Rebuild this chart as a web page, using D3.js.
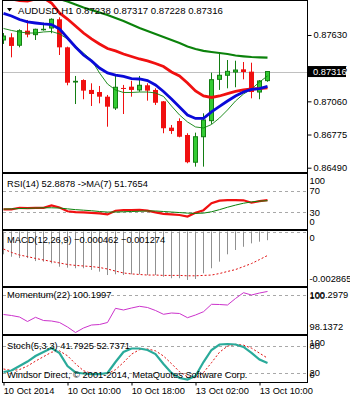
<!DOCTYPE html>
<html><head><meta charset="utf-8">
<script src="https://cdn.jsdelivr.net/npm/d3@7"></script>
<style>
html,body{margin:0;padding:0;background:#fff;}
svg{display:block;font-family:"Liberation Sans",Arial,sans-serif;font-size:9.3px;}
</style></head><body>
<svg id="c" width="350" height="400"></svg>
<script>
// ---------------- data ----------------
const symbol = "AUDUSD,H1";
const times = ["10 Oct 02:00","10 Oct 03:00","10 Oct 04:00","10 Oct 05:00","10 Oct 06:00","10 Oct 07:00","10 Oct 08:00","10 Oct 09:00",
  "10 Oct 10:00","10 Oct 11:00","10 Oct 12:00","10 Oct 13:00","10 Oct 14:00","10 Oct 15:00","10 Oct 16:00","10 Oct 17:00",
  "10 Oct 18:00","10 Oct 19:00","10 Oct 20:00","10 Oct 21:00","10 Oct 22:00","10 Oct 23:00","13 Oct 00:00","13 Oct 01:00",
  "13 Oct 02:00","13 Oct 03:00","13 Oct 04:00","13 Oct 05:00","13 Oct 06:00","13 Oct 07:00","13 Oct 08:00","13 Oct 09:00",
  "13 Oct 10:00","13 Oct 11:00"];
const open  = [0.87587,0.87610,0.87542,0.87667,0.87633,0.87676,0.87690,0.87765,0.87524,0.87226,0.87243,0.87158,0.87140,0.87100,0.87003,0.87175,0.87186,0.87158,0.87198,0.87158,0.87060,0.86834,0.86891,0.86771,0.86537,0.86756,0.86894,0.87249,0.87284,0.87312,0.87335,0.87315,0.87140,0.87238];
const high  = [0.87647,0.87645,0.87679,0.87759,0.87684,0.87736,0.87773,0.87782,0.87530,0.87278,0.87249,0.87215,0.87192,0.87115,0.87286,0.87201,0.87237,0.87278,0.87215,0.87172,0.87063,0.86857,0.86914,0.86786,0.86791,0.86957,0.87306,0.87473,0.87415,0.87409,0.87398,0.87392,0.87243,0.87317];
const low   = [0.87553,0.87438,0.87524,0.87610,0.87587,0.87667,0.87645,0.87458,0.87198,0.87037,0.87078,0.87020,0.87043,0.86842,0.86986,0.86951,0.87100,0.87143,0.87066,0.87029,0.86786,0.86780,0.86751,0.86528,0.86499,0.86499,0.86866,0.87158,0.87172,0.87181,0.87249,0.87086,0.87078,0.87228];
const close = [0.87621,0.87536,0.87667,0.87633,0.87679,0.87679,0.87765,0.87524,0.87220,0.87232,0.87152,0.87123,0.87100,0.87014,0.87181,0.87169,0.87158,0.87198,0.87152,0.87048,0.86829,0.86805,0.86756,0.86537,0.86756,0.86900,0.87246,0.87284,0.87318,0.87329,0.87312,0.87140,0.87235,0.87316];

const maBlue  = [0.87815,0.87793,0.87763,0.87742,0.87733,0.87725,0.87720,0.87682,0.87604,0.87527,0.87458,0.87407,0.87346,0.87304,0.87286,0.87274,0.87256,0.87252,0.87239,0.87201,0.87145,0.87080,0.87011,0.86943,0.86913,0.86913,0.86969,0.87016,0.87063,0.87106,0.87140,0.87162,0.87170,0.87188];
const maRed   = [0.87956,0.87939,0.87926,0.87922,0.87939,0.87948,0.87905,0.87819,0.87767,0.87707,0.87647,0.87596,0.87553,0.87514,0.87493,0.87467,0.87445,0.87424,0.87407,0.87385,0.87359,0.87312,0.87278,0.87218,0.87149,0.87106,0.87093,0.87106,0.87127,0.87145,0.87158,0.87166,0.87170,0.87175];
const maGreen = [0.88068,0.88051,0.88034,0.88017,0.87999,0.87978,0.87956,0.87939,0.87918,0.87892,0.87866,0.87845,0.87823,0.87802,0.87776,0.87750,0.87720,0.87690,0.87664,0.87639,0.87613,0.87587,0.87561,0.87531,0.87510,0.87493,0.87484,0.87475,0.87467,0.87454,0.87447,0.87441,0.87438,0.87435];
const maThin  = [0.87686,0.87669,0.87656,0.87647,0.87647,0.87656,0.87660,0.87639,0.87596,0.87536,0.87475,0.87415,0.87304,0.87209,0.87158,0.87136,0.87136,0.87140,0.87140,0.87132,0.87102,0.87020,0.86943,0.86883,0.86840,0.86831,0.86861,0.86917,0.86986,0.87063,0.87123,0.87166,0.87226,0.87278];

const rsi   = [35.5,35.5,38.5,38,38.5,38.5,43,39,32,30.5,30,29,28,26,33,34,34,34.5,33,30,27,26,25,22,29,34,47,52,53,53,52.5,48,51,52.8878];
const rsiMa = [36,36.5,37,37.5,38,38.5,38.5,38,36.5,35,34,33,31.5,30.5,30.5,31,31.5,32,32.5,32.5,31.5,30.5,29.5,28.5,28,28.5,31,35,39.5,43.5,47,49.5,51,51.7654];

const macd       = [-0.00121,-0.00134,-0.00141,-0.00141,-0.00157,-0.00160,-0.00169,-0.00187,-0.00192,-0.00195,-0.00195,-0.00204,-0.00213,-0.00231,-0.00227,-0.00231,-0.00227,-0.00227,-0.00231,-0.00231,-0.00240,-0.00248,-0.00248,-0.00257,-0.00252,-0.00222,-0.00195,-0.00160,-0.00121,-0.00098,-0.00081,-0.00063,-0.00054,-0.000462];
const macdSignal = [-0.00093,-0.00111,-0.00125,-0.00133,-0.00143,-0.00151,-0.00159,-0.00167,-0.00175,-0.00180,-0.00183,-0.00186,-0.00191,-0.00199,-0.00210,-0.00220,-0.00225,-0.00228,-0.00231,-0.00231,-0.00233,-0.00233,-0.00233,-0.00235,-0.00235,-0.00233,-0.00231,-0.00223,-0.00212,-0.00202,-0.00186,-0.00170,-0.00149,-0.001274];
const macdRange  = [-0.002865, 0];

const momentum = [99.042,98.991,98.916,98.690,98.901,98.740,98.715,98.640,98.414,98.1372,98.363,98.514,98.539,98.640,99.353,99.268,99.368,99.454,99.393,99.243,99.052,99.117,99.092,98.881,99.017,99.182,99.554,99.544,99.519,99.846,100.137,100.021,100.122,100.1997];
const momRange = [98.1372, 100.2979];

const stochMain   = [21.6,25,35,45,57.5,66.5,75.5,64,35,20.5,18.2,17,17,19.3,44,66.5,74.4,74.4,71,62,39.6,19.3,8.1,4.7,12.6,44,71,83.4,84.5,83.4,77.8,64.3,49.7,41.7925];
const stochSignal = [28.3,25,27,35,46,56,66,69,58,40,24.5,18.5,17.4,17.8,26.8,43,61.6,71.8,73.3,69.1,57.5,40.3,22.3,10.7,8.5,20.4,42.5,66,79.6,83.8,81.9,75.2,63.9,52.7371];

const priceTicks = [0.87630, 0.87345, 0.87060, 0.86775, 0.86490];
const timeTickIdx = [0, 8, 16, 24, 32];
const timeTickLabels = ["10 Oct 2014","10 Oct 10:00","10 Oct 18:00","13 Oct 02:00","13 Oct 10:00"];
const rsiLevels = [100, 70, 30, 0];
const stochLevels = [100, 80, 20, 0];

// ---------------- layout ----------------
const svg = d3.select("#c");
const L = 3, R = 307;
const panels = {
  main:  {y0: 1,   y1: 172},
  rsi:   {y0: 174, y1: 229},
  macd:  {y0: 231, y1: 286},
  mom:   {y0: 288, y1: 334},
  stoch: {y0: 336, y1: 382}
};
const x = d3.scaleLinear().domain([0, 38]).range([L + 0.5, R + 0.5]);
const yP = d3.scaleLinear().domain([0.86453, 0.87922]).range([172, 1]);
const yR = d3.scaleLinear().domain([0, 100]).range([228.3, 175]);
const yM = d3.scaleLinear().domain(macdRange).range([285.5, 231.5]);
const yMo = d3.scaleLinear().domain(momRange).range([332.5, 289.5]);
const yS = d3.scaleLinear().domain([0, 100]).range([381.6, 337.1]);

const defs = svg.append("defs");
Object.entries(panels).forEach(([k,p]) => {
  defs.append("clipPath").attr("id","clip-"+k).append("rect")
    .attr("x", L).attr("y", p.y0).attr("width", R - L).attr("height", p.y1 - p.y0);
});
const layer = k => svg.append("g").attr("clip-path", "url(#clip-"+k+")");

const idx = d3.range(times.length);
const lineOf = (arr, ys) => d3.line().x((d,i) => x(i)).y(d => ys(d))(arr);

// ---------------- main chart ----------------
const gm = layer("main");
gm.append("line").attr("x1", L).attr("x2", R)
  .attr("y1", Math.round(yP(close[close.length-1])) + 0.5).attr("y2", Math.round(yP(close[close.length-1])) + 0.5)
  .attr("stroke", "#c0c0c0");

const bull = i => close[i] >= open[i];
gm.selectAll(".wick").data(idx).join("line")
  .attr("x1", i => x(i)).attr("x2", i => x(i))
  .attr("y1", i => yP(high[i])).attr("y2", i => yP(low[i]))
  .attr("stroke", i => bull(i) ? "#137d13" : "#f01010").attr("stroke-width", 1);
gm.selectAll(".body").data(idx).join("rect")
  .attr("x", i => bull(i) ? x(i) - 2 : x(i) - 2.5)
  .attr("width", i => bull(i) ? 4 : 5)
  .attr("y", i => yP(Math.max(open[i], close[i])))
  .attr("height", i => Math.max(bull(i) ? 0.5 : 1, Math.abs(yP(open[i]) - yP(close[i]))))
  .attr("fill", i => bull(i) ? "#33cc33" : "#f01010")
  .attr("stroke", i => bull(i) ? "#137d13" : "none")
  .attr("stroke-width", 1);

gm.append("path").attr("d", lineOf(maGreen, yP)).attr("fill","none").attr("stroke","#0b820b").attr("stroke-width",2.2);
gm.append("path").attr("d", lineOf(maThin, yP)).attr("fill","none").attr("stroke","#0b820b").attr("stroke-width",0.9);
gm.append("path").attr("d", lineOf(maRed, yP)).attr("fill","none").attr("stroke","#f01010").attr("stroke-width",2.8);
gm.append("path").attr("d", lineOf(maBlue, yP)).attr("fill","none").attr("stroke","#0a0ad8").attr("stroke-width",2.8);

// price axis
const pAxis = svg.append("g").attr("transform", `translate(${R + 0.5},0)`)
  .call(d3.axisRight(yP).tickValues(priceTicks).tickFormat(d3.format(".5f")).tickSize(4).tickPadding(2));
pAxis.select(".domain").remove();
pAxis.selectAll("text").attr("font-family", '"Liberation Sans",Arial,sans-serif').attr("font-size", "9.3px").attr("fill", "#000");
pAxis.selectAll("line").attr("stroke", "#000");

// current price box
const lastY = yP(close[close.length-1]);
svg.append("rect").attr("x", 308).attr("y", lastY - 5.5).attr("width", 38).attr("height", 11).attr("fill", "#000");
svg.append("text").attr("x", 313).attr("y", lastY).attr("dy", "0.35em").attr("fill", "#fff").text(d3.format(".5f")(close[close.length-1]));

// header
svg.append("path").attr("d", "M7,8 L12,8 L9.5,11.5 Z").attr("fill", "#000");
svg.append("text").attr("x", 18).attr("y", 13.5).attr("font-size", "9.6px")
  .text(`${symbol} ${d3.format(".5f")(open[33])} ${d3.format(".5f")(high[33])} ${d3.format(".5f")(low[33])} ${d3.format(".5f")(close[33])}`);

// ---------------- helpers for sub-panels ----------------
function dashed(k, yv) {
  svg.append("line").attr("x1", L).attr("x2", R).attr("y1", Math.round(yv) + 0.5).attr("y2", Math.round(yv) + 0.5)
    .attr("stroke", "#a8a8a8").attr("stroke-dasharray", "3,3");
}
function rlabel(k, yv, txt) {
  const p = panels[k];
  const yy = Math.max(p.y0 + 7, Math.min(p.y1 - 7, yv));
  svg.append("text").attr("x", 309.5).attr("y", yy).attr("dy", "0.35em").text(txt);
}

// RSI
dashed("rsi", yR(70)); dashed("rsi", yR(30));
const gr = layer("rsi");
gr.append("path").attr("d", lineOf(rsi, yR)).attr("fill","none").attr("stroke","#f01010").attr("stroke-width",2.2);
gr.append("path").attr("d", lineOf(rsiMa, yR)).attr("fill","none").attr("stroke","#0b820b").attr("stroke-width",1);
rsiLevels.forEach(v => rlabel("rsi", yR(v), String(v)));
svg.append("text").attr("x", 7).attr("y", 186.6).text(`RSI(14) ${d3.format(".4f")(rsi[33])}  ->MA(7) ${d3.format(".4f")(rsiMa[33])}`);

// MACD
dashed("macd", yM(0));
const gc = layer("macd");
gc.selectAll(".hist").data(idx).join("line")
  .attr("x1", i => x(i)).attr("x2", i => x(i))
  .attr("y1", yM(0)).attr("y2", i => yM(macd[i]))
  .attr("stroke", "#909090").attr("stroke-width", 1);
gc.append("path").attr("d", lineOf(macdSignal, yM)).attr("fill","none").attr("stroke","#e01010").attr("stroke-width",1).attr("stroke-dasharray","2,2");
rlabel("macd", yM(0), "0");
rlabel("macd", yM(macdRange[0]), String(macdRange[0]));
svg.append("text").attr("x", 7).attr("y", 243.3).text(`MACD(12,26,9) ${d3.format(".6f")(macd[33])} ${d3.format(".6f")(macdSignal[33])}`);

// Momentum
dashed("mom", yMo(100));
const go = layer("mom");
go.append("path").attr("d", lineOf(momentum, yMo)).attr("fill","none").attr("stroke","#cc33cc").attr("stroke-width",1);
rlabel("mom", yMo(100), "100");
rlabel("mom", yMo(momRange[1]), d3.format(".4f")(momRange[1]));
rlabel("mom", yMo(momRange[0]), d3.format(".4f")(momRange[0]));
svg.append("text").attr("x", 7).attr("y", 298.3).text(`Momentum(22) ${d3.format(".4f")(momentum[33])}`);

// Stochastic
dashed("stoch", yS(80)); dashed("stoch", yS(20));
const gs = layer("stoch");
gs.append("path").attr("d", lineOf(stochSignal, yS)).attr("fill","none").attr("stroke","#e01010").attr("stroke-width",1).attr("stroke-dasharray","2,2");
gs.append("path").attr("d", lineOf(stochMain, yS)).attr("fill","none").attr("stroke","#2aaa9a").attr("stroke-width",2.2);
stochLevels.forEach(v => rlabel("stoch", yS(v), String(v)));
svg.append("text").attr("x", 7).attr("y", 349.3).text(`Stoch(5,3,3) ${d3.format(".4f")(stochMain[33])} ${d3.format(".4f")(stochSignal[33])}`);
svg.append("text").attr("x", 7).attr("y", 378).text("Windsor Direct, \u00a9 2001-2014, MetaQuotes Software Corp.");

// panel borders
Object.values(panels).forEach(p => {
  svg.append("rect").attr("x", L - 0.5).attr("y", p.y0 - 0.5).attr("width", R - L + 1).attr("height", p.y1 - p.y0 + 1)
    .attr("fill", "none").attr("stroke", "#000").attr("stroke-width", 1);
});

// time axis
const xa = svg.append("g").attr("transform", `translate(0,${panels.stoch.y1 + 0.5})`)
  .call(d3.axisBottom(x).tickValues(timeTickIdx).tickFormat((d,i) => timeTickLabels[i]).tickSize(3).tickPadding(2));
xa.select(".domain").remove();
xa.selectAll("text").attr("text-anchor", "start").attr("font-family", '"Liberation Sans",Arial,sans-serif').attr("font-size", "9.3px").attr("fill", "#000").attr("dx", "-0.3");
xa.selectAll("line").attr("stroke", "#000");
</script>
</body></html>
